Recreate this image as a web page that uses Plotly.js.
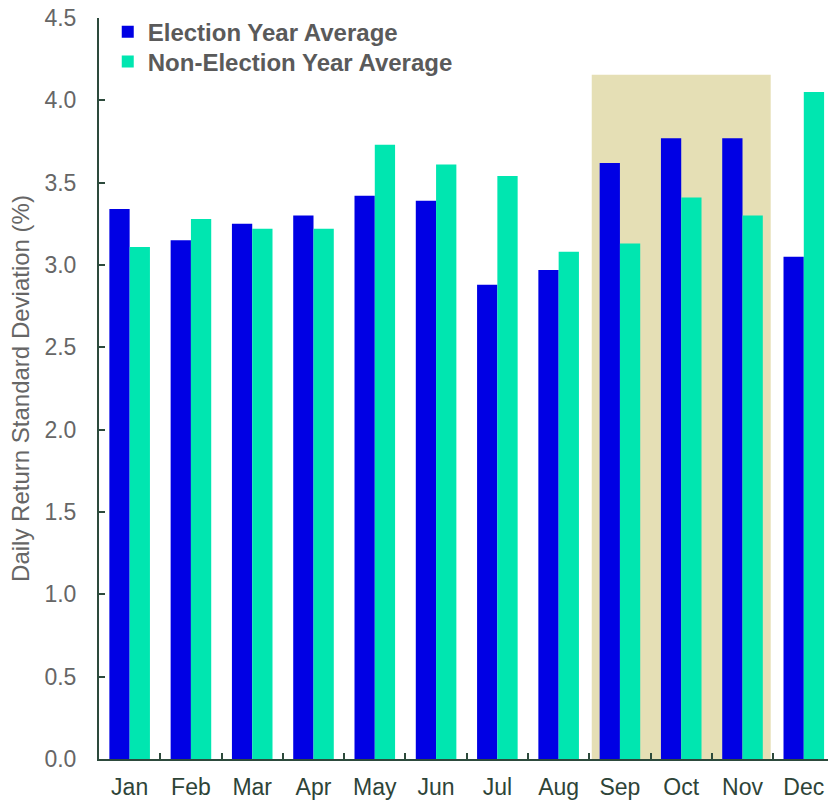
<!DOCTYPE html>
<html>
<head>
<meta charset="utf-8">
<script src="https://cdn.plot.ly/plotly-3.0.1.min.js"></script>
<style>
  html, body { margin: 0; padding: 0; background: #fff; }
  #chart { width: 828px; height: 801px; }
</style>
</head>
<body>
<div id="chart"></div>
<script>
const months = ["Jan", "Feb", "Mar", "Apr", "May", "Jun", "Jul", "Aug", "Sep", "Oct", "Nov", "Dec"];
const electionYear = [3.34, 3.15, 3.25, 3.30, 3.42, 3.39, 2.88, 2.97, 3.62, 3.77, 3.77, 3.05];
const nonElectionYear = [3.11, 3.28, 3.22, 3.22, 3.73, 3.61, 3.54, 3.08, 3.13, 3.41, 3.30, 4.05];
const yTicks = [0, 0.5, 1.0, 1.5, 2.0, 2.5, 3.0, 3.5, 4.0, 4.5];

// shaded window over Sep-Nov
const highlightStart = 7.54;
const highlightEnd = 10.46;
const highlightTop = 4.155;

const axisColor = "#2d4a3c";
const labelGray = "#666666";

const legendStyle = (y) => ({
    x: 0.012,
    y: y,
    xanchor: "left",
    yanchor: "middle",
    bgcolor: "rgba(0,0,0,0)",
    font: { size: 24, weight: "bold", color: "#5a5a5a" },
});

const election = {
    name: "Election Year Average",
    x: months,
    y: electionYear,
    type: "bar",
    legend: "legend",
    marker: { color: "#0000e4", line: { width: 0 } },
};

const nonElection = {
    name: "Non-Election Year Average",
    x: months,
    y: nonElectionYear,
    type: "bar",
    legend: "legend2",
    marker: { color: "#00e6b0", line: { width: 0 } },
};

const layout = {
    width: 828,
    height: 801,
    margin: { l: 99, r: 0, t: 18, b: 42 },
    paper_bgcolor: "#ffffff",
    plot_bgcolor: "#ffffff",
    font: { family: "Liberation Sans, Arial, sans-serif", size: 23, color: labelGray },
    barmode: "group",
    bargap: 0.338,
    bargroupgap: 0,
    showlegend: true,
    legend: legendStyle(0.981),
    legend2: legendStyle(0.9406),
    xaxis: {
        type: "category",
        range: [-0.5, 11.395],
        showgrid: false,
        showline: true,
        linecolor: axisColor,
        linewidth: 2,
        ticks: "inside",
        tickson: "boundaries",
        ticklen: 6,
        tickwidth: 2,
        tickcolor: axisColor,
        tickfont: { size: 23, color: "#2e4438" },
        ticklabelstandoff: 6,
        fixedrange: true,
    },
    yaxis: {
        range: [0, 4.5],
        tickvals: yTicks,
        tickformat: ".1f",
        showgrid: false,
        zeroline: false,
        showline: true,
        linecolor: axisColor,
        linewidth: 2,
        ticks: "inside",
        ticklen: 6,
        tickwidth: 2,
        tickcolor: axisColor,
        tickfont: { size: 23, color: labelGray },
        ticklabelstandoff: 16,
        title: {
            text: "Daily Return Standard Deviation (%)",
            font: { size: 24, color: labelGray },
            standoff: 8,
        },
        automargin: false,
        fixedrange: true,
    },
    shapes: [
        {
            type: "rect",
            xref: "x",
            yref: "y",
            x0: highlightStart,
            x1: highlightEnd,
            y0: 0,
            y1: highlightTop,
            fillcolor: "#e5dfb5",
            line: { width: 0 },
            layer: "below",
        },
    ],
};

Plotly.newPlot("chart", [election, nonElection], layout, { displayModeBar: false, staticPlot: true });
</script>
</body>
</html>
